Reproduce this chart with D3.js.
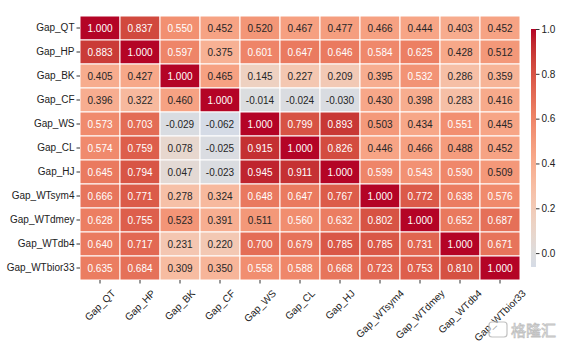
<!DOCTYPE html>
<html>
<head>
<meta charset="utf-8">
<script src="https://cdn.jsdelivr.net/npm/d3@7"></script>
<style>
  body { margin: 0; background: #fff; }
  svg { display: block; font-family: Arial, "Liberation Sans", sans-serif; }
</style>
</head>
<body>
<div id="chart"></div>
<script>
var names = ['Gap_QT', 'Gap_HP', 'Gap_BK', 'Gap_CF', 'Gap_WS', 'Gap_CL', 'Gap_HJ',
  'Gap_WTsym4', 'Gap_WTdmey', 'Gap_WTdb4', 'Gap_WTbior33'];

// one array per row of the matrix
var rowQT = [1.000, 0.837, 0.550, 0.452, 0.520, 0.467, 0.477, 0.466, 0.444, 0.403, 0.452];
var rowHP = [0.883, 1.000, 0.597, 0.375, 0.601, 0.647, 0.646, 0.584, 0.625, 0.428, 0.512];
var rowBK = [0.405, 0.427, 1.000, 0.465, 0.145, 0.227, 0.209, 0.395, 0.532, 0.286, 0.359];
var rowCF = [0.396, 0.322, 0.460, 1.000, -0.014, -0.024, -0.030, 0.430, 0.398, 0.283, 0.416];
var rowWS = [0.573, 0.703, -0.029, -0.062, 1.000, 0.799, 0.893, 0.503, 0.434, 0.551, 0.445];
var rowCL = [0.574, 0.759, 0.078, -0.025, 0.915, 1.000, 0.826, 0.446, 0.466, 0.488, 0.452];
var rowHJ = [0.645, 0.794, 0.047, -0.023, 0.945, 0.911, 1.000, 0.599, 0.543, 0.590, 0.509];
var rowWTsym4 = [0.666, 0.771, 0.278, 0.324, 0.648, 0.647, 0.767, 1.000, 0.772, 0.638, 0.576];
var rowWTdmey = [0.628, 0.755, 0.523, 0.391, 0.511, 0.560, 0.632, 0.802, 1.000, 0.652, 0.687];
var rowWTdb4 = [0.640, 0.717, 0.231, 0.220, 0.700, 0.679, 0.785, 0.785, 0.731, 1.000, 0.671];
var rowWTbior33 = [0.635, 0.684, 0.309, 0.350, 0.558, 0.588, 0.668, 0.723, 0.753, 0.810, 1.000];
var rows = [rowQT, rowHP, rowBK, rowCF, rowWS, rowCL, rowHJ, rowWTsym4, rowWTdmey, rowWTdb4, rowWTbior33];

var cbarTicks = [0.0, 0.2, 0.4, 0.6, 0.8, 1.0];

// matplotlib coolwarm, 33 samples
var coolwarm = [[59,76,192],[68,90,204],[77,104,215],[87,117,225],[98,130,234],[108,142,241],
  [119,154,247],[130,165,251],[141,176,254],[152,185,255],[163,194,255],[174,201,253],
  [184,208,249],[194,213,244],[204,217,238],[213,219,230],[221,221,221],[229,216,209],
  [236,211,197],[241,204,185],[245,196,173],[247,187,160],[247,177,148],[247,166,135],
  [244,154,123],[241,141,111],[236,127,99],[229,112,88],[222,96,77],[213,80,66],
  [203,62,56],[192,40,47],[180,4,38]];
function coolwarmAt(t) {
  t = Math.max(0, Math.min(1, t));
  var p = t * (coolwarm.length - 1), i = Math.min(Math.floor(p), coolwarm.length - 2), f = p - i;
  var a = coolwarm[i], b = coolwarm[i + 1];
  return d3.rgb(a[0] + (b[0] - a[0]) * f, a[1] + (b[1] - a[1]) * f, a[2] + (b[2] - a[2]) * f);
}

var cells = [];
rows.forEach(function(r, i) {
  r.forEach(function(v, j) { cells.push({row: names[i], col: names[j], v: v}); });
});
var vmin = d3.min(cells, function(d) { return d.v; });
var vmax = d3.max(cells, function(d) { return d.v; });

// seaborn center=0: value v maps to coolwarm((v + 1) / 2)
var toCmap = d3.scaleLinear().domain([-1, 1]).range([0, 1]);
function color(v) { return coolwarmAt(toCmap(v)); }

function luminance(c) {
  var lin = [c.r, c.g, c.b].map(function(x) {
    x = x / 255;
    return x <= 0.03928 ? x / 12.92 : Math.pow((x + 0.055) / 1.055, 2.4);
  });
  return 0.2126 * lin[0] + 0.7152 * lin[1] + 0.0722 * lin[2];
}

// plain hyphen minus, like python's format
var fmt = d3.formatLocale({decimal: '.', thousands: ',', grouping: [3], currency: ['', ''], minus: '-'});

var W = 561, H = 346;
var padL = 80, padT = 16, cellW = 40, cellH = 24;

var svg = d3.select('#chart').append('svg')
  .attr('width', W).attr('height', H);

var x = d3.scaleBand().domain(names).range([padL, padL + cellW * names.length]);
var y = d3.scaleBand().domain(names).range([padT, padT + cellH * names.length]);

svg.append('g').selectAll('rect')
  .data(cells)
  .enter().append('rect')
  .attr('x', function(d) { return x(d.col); })
  .attr('y', function(d) { return y(d.row); })
  .attr('width', x.bandwidth())
  .attr('height', y.bandwidth())
  .attr('fill', function(d) { return color(d.v); })
  .attr('stroke', '#fff')
  .attr('stroke-width', 1);

svg.append('g').selectAll('text')
  .data(cells)
  .enter().append('text')
  .attr('x', function(d) { return x(d.col) + x.bandwidth() / 2; })
  .attr('y', function(d) { return y(d.row) + y.bandwidth() / 2; })
  .attr('text-anchor', 'middle')
  .attr('dominant-baseline', 'central')
  .attr('font-size', 10)
  .attr('fill', function(d) { return luminance(color(d.v)) > 0.415 ? '#262626' : '#ffffff'; })
  .text(function(d) { return fmt.format('.3f')(d.v); });

// y axis
var yAxis = svg.append('g')
  .attr('transform', 'translate(' + padL + ',0)')
  .call(d3.axisLeft(y).tickSize(3.5).tickPadding(2));
yAxis.select('.domain').remove();
yAxis.selectAll('line').attr('stroke', '#333');
yAxis.selectAll('text').attr('font-size', 10).attr('fill', '#222')
  .attr('font-family', 'Arial, "Liberation Sans", sans-serif');

// x axis, labels rotated 45 with centred box
var bottom = padT + cellH * names.length;
var xAxis = svg.append('g')
  .attr('transform', 'translate(0,' + bottom + ')')
  .call(d3.axisBottom(x).tickSize(3.5));
xAxis.select('.domain').remove();
xAxis.selectAll('line').attr('stroke', '#333');
xAxis.selectAll('text')
  .attr('font-size', 10).attr('fill', '#222')
  .attr('font-family', 'Arial, "Liberation Sans", sans-serif')
  .attr('text-anchor', 'middle')
  .attr('dy', null)
  .attr('dominant-baseline', 'central')
  .attr('y', 0)
  .attr('transform', function() {
    var L = this.getComputedTextLength();
    var half = (L + 10) * Math.SQRT1_2 / 2;
    return 'translate(0,' + (8 + half) + ') rotate(-45)';
  });

// colour bar
var cbX = 531, cbW = 5;
var cbY = d3.scaleLinear().domain([vmin, vmax]).range([267, 29]);
var grad = svg.append('defs').append('linearGradient')
  .attr('id', 'cbgrad').attr('x1', 0).attr('y1', 1).attr('x2', 0).attr('y2', 0);
d3.range(0, 1.0001, 0.02).forEach(function(t) {
  var v = vmin + (vmax - vmin) * t;
  grad.append('stop').attr('offset', t).attr('stop-color', color(v));
});
svg.append('rect')
  .attr('x', cbX).attr('y', cbY(vmax))
  .attr('width', cbW).attr('height', cbY(vmin) - cbY(vmax))
  .attr('fill', 'url(#cbgrad)');
var cAxis = svg.append('g')
  .attr('transform', 'translate(' + (cbX + cbW) + ',0)')
  .call(d3.axisRight(cbY).tickValues(cbarTicks).tickFormat(fmt.format('.1f')).tickSize(3.5).tickPadding(2));
cAxis.select('.domain').remove();
cAxis.selectAll('line').attr('stroke', '#333');
cAxis.selectAll('text').attr('font-size', 10).attr('fill', '#222')
  .attr('font-family', 'Arial, "Liberation Sans", sans-serif');

// watermark
var wm = svg.append('g').attr('opacity', 0.9);
wm.append('rect').attr('x', 489).attr('y', 322).attr('width', 18).attr('height', 15).attr('rx', 3)
  .attr('fill', 'rgba(255,255,255,0.6)').attr('stroke', '#bbb').attr('stroke-width', 1.2);
wm.append('text').attr('x', 511).attr('y', 336)
  .attr('font-family', '"Noto Sans CJK SC", sans-serif').attr('font-size', 15)
  .attr('fill', '#fff').attr('stroke', '#bbb').attr('stroke-width', 0.8)
  .text('格隆汇');
</script>
</body>
</html>
